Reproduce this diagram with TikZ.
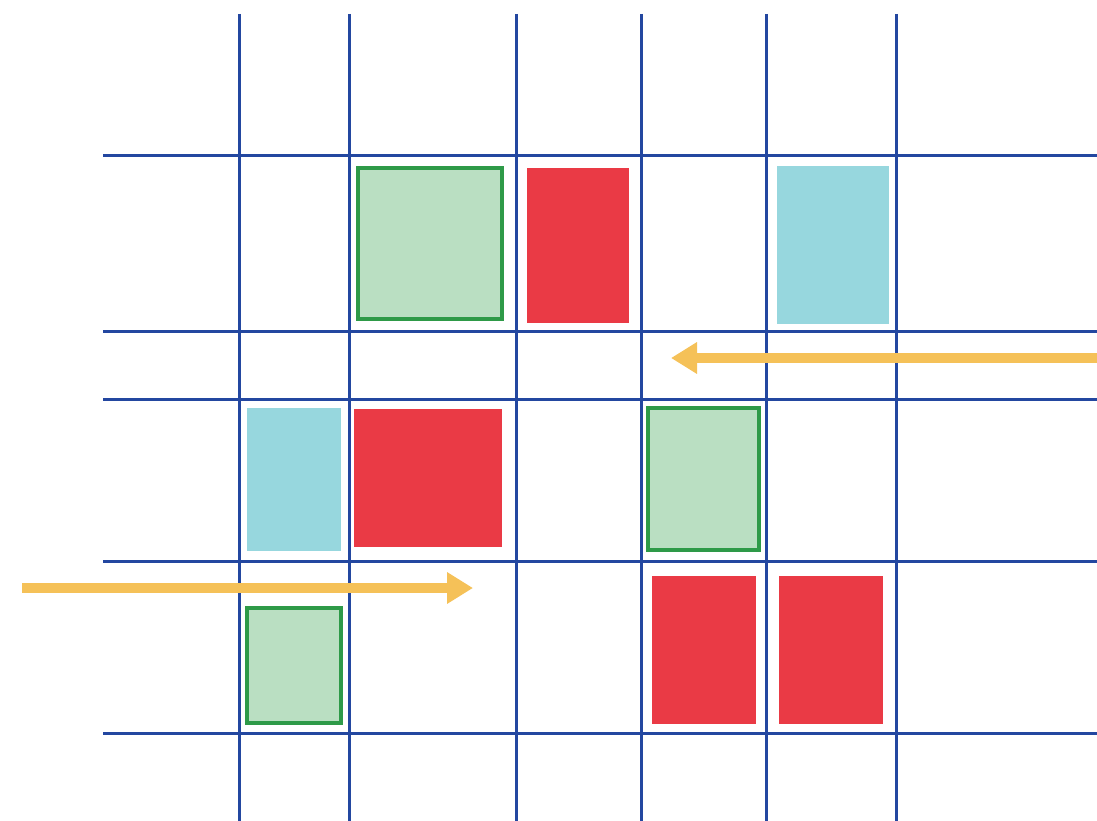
\documentclass[tikz,border=0pt]{standalone}
\usetikzlibrary{arrows.meta}
\definecolor{gridblue}{HTML}{2347A0}
\definecolor{gfill}{HTML}{BADFC2}
\definecolor{gline}{HTML}{2E9A48}
\definecolor{rfill}{HTML}{EA3A45}
\definecolor{cfill}{HTML}{97D7DE}
\definecolor{yarrow}{HTML}{F5C158}
\tikzset{
  gridline/.style={draw=gridblue, line width=3pt},
  greenbox/.style={rectangle, draw=gline, fill=gfill, line width=3.5pt, inner sep=0pt, outer sep=0pt},
  redbox/.style={rectangle, fill=rfill, inner sep=0pt, outer sep=0pt},
  cyanbox/.style={rectangle, fill=cfill, inner sep=0pt, outer sep=0pt},
  yarr/.style={draw=yarrow, line width=10pt, -{Triangle[length=26pt,width=30pt]}},
}
\begin{document}
\begin{tikzpicture}[x=1pt,y=-1pt]
\useasboundingbox (0,0) rectangle (1097,821);
\fill[white] (0,0) rectangle (1097,821);
% grid
\foreach \gx in {239,349,516,641,766,896}{
  \draw[gridline] (\gx,14) -- (\gx,821);
}
\foreach \gy in {156,331,399,561,733}{
  \draw[gridline] (103,\gy) -- (1097,\gy);
}
% boxes
\node[greenbox, minimum width=144pt, minimum height=151pt] (g1) at (430,243.5) {};
\node[redbox, minimum width=102pt, minimum height=155pt] (r1) at (578,245.5) {};
\node[cyanbox, minimum width=112pt, minimum height=158pt] (c1) at (833,245) {};
\node[cyanbox, minimum width=94pt, minimum height=143pt] (c2) at (294,479.5) {};
\node[redbox, minimum width=148pt, minimum height=138pt] (r2) at (428,478) {};
\node[greenbox, minimum width=111pt, minimum height=142pt] (g2) at (703.5,479) {};
\node[greenbox, minimum width=94pt, minimum height=115pt] (g3) at (294,665.5) {};
\node[redbox, minimum width=104pt, minimum height=148pt] (r3) at (704,650) {};
\node[redbox, minimum width=104pt, minimum height=148pt] (r4) at (831,650) {};
% arrows
\coordinate (a1s) at (1097,358);
\coordinate (a1e) at (671,358);
\coordinate (a2s) at (22,588);
\coordinate (a2e) at (473,588);
\draw[yarr] (a1s) -- (a1e);
\draw[yarr] (a2s) -- (a2e);
\end{tikzpicture}
\end{document}
